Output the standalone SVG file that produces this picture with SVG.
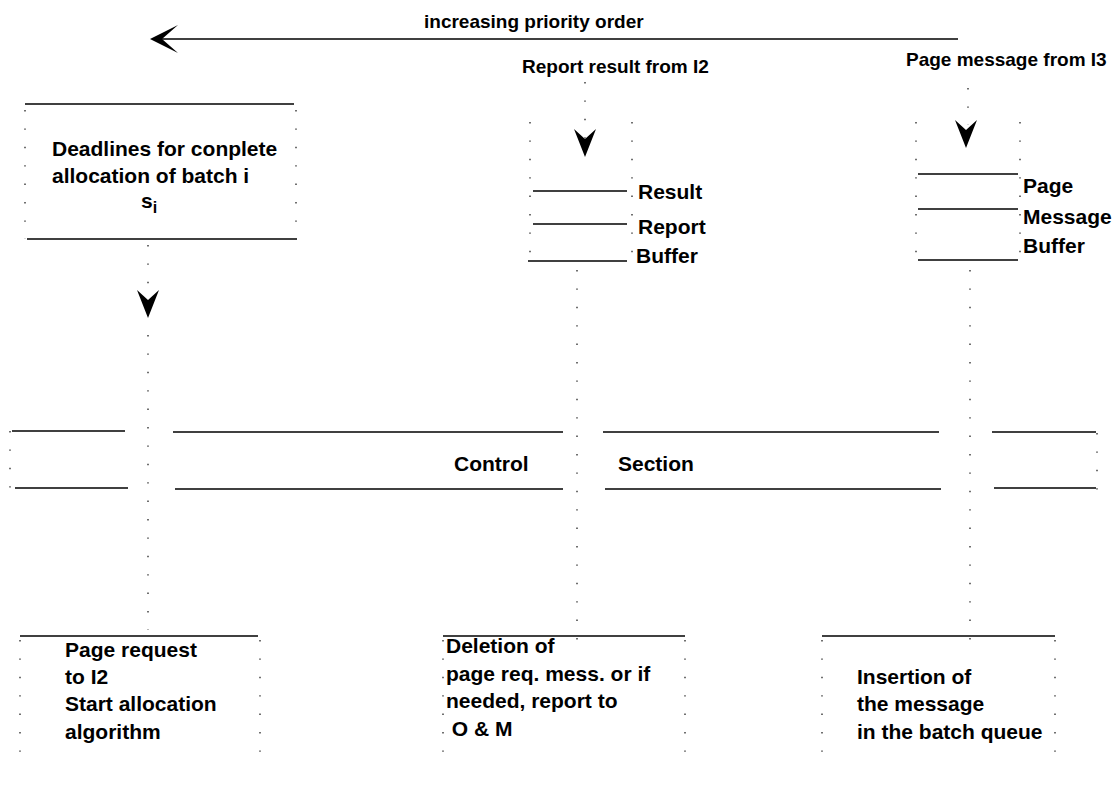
<svg xmlns="http://www.w3.org/2000/svg" width="1120" height="791" viewBox="0 0 1120 791">
<style>
  .t { font-family: "Liberation Sans", Arial, sans-serif; font-size: 21px; font-weight: bold; fill: #000; }
  .s { font-size: 19px; }
  .ln { stroke: #000; stroke-width: 1.3; fill: none; }
  .dot { stroke: #333; stroke-width: 1.4; fill: none; stroke-dasharray: 1.4 17; }
  .head { fill: #000; stroke: none; }
</style>
<defs>
  <path id="down" d="M0,0 L-11,-28 L0,-18 L11,-28 Z"/>
</defs>

<g id="priority">
  <line class="ln" x1="152" y1="39" x2="958" y2="39"/>
  <path class="head" d="M150,39 L178,25 L162,39 L178,53 Z"/>
  <text class="t s" x="424" y="28">increasing priority order</text>
</g>

<g id="connectors">
  <line class="dot" x1="148" y1="245" x2="148" y2="295"/>
  <line class="dot" x1="148" y1="335" x2="148" y2="630"/>
  <line class="dot" x1="585" y1="82" x2="585" y2="140"/>
  <line class="dot" x1="577" y1="270" x2="577" y2="640"/>
  <line class="dot" x1="968" y1="88" x2="968" y2="125"/>
  <line class="dot" x1="970" y1="270" x2="970" y2="640"/>
  <use href="#down" class="head" x="148" y="318"/>
  <use href="#down" class="head" x="585" y="157"/>
  <use href="#down" class="head" x="966" y="148"/>
</g>

<g id="deadlines">
  <line class="ln" x1="25" y1="104" x2="294" y2="104"/>
  <line class="ln" x1="27" y1="239" x2="297" y2="239"/>
  <line class="dot" x1="25" y1="110" x2="25" y2="239"/>
  <line class="dot" x1="296" y1="110" x2="296" y2="239"/>
  <text class="t" x="52" y="156">Deadlines for conplete</text>
  <text class="t" x="52" y="183">allocation of batch i</text>
  <text class="t" x="141" y="208">s<tspan font-size="16" dy="5">i</tspan></text>
</g>

<g id="report-input">
  <text class="t s" x="522" y="73">Report result from I2</text>
</g>

<g id="result-buffer">
  <line class="dot" x1="530" y1="122" x2="530" y2="265"/>
  <line class="dot" x1="632" y1="122" x2="632" y2="265"/>
  <line class="ln" x1="533" y1="191" x2="627" y2="191"/>
  <line class="ln" x1="533" y1="224" x2="627" y2="224"/>
  <line class="ln" x1="528" y1="261" x2="627" y2="261"/>
  <text class="t" x="638" y="199">Result</text>
  <text class="t" x="638" y="234">Report</text>
  <text class="t" x="636" y="263">Buffer</text>
</g>

<g id="page-input">
  <text class="t s" x="906" y="66">Page message from I3</text>
</g>

<g id="page-buffer">
  <line class="dot" x1="916" y1="122" x2="916" y2="262"/>
  <line class="dot" x1="1020" y1="122" x2="1020" y2="262"/>
  <line class="ln" x1="918" y1="174" x2="1018" y2="174"/>
  <line class="ln" x1="918" y1="209" x2="1018" y2="209"/>
  <line class="ln" x1="918" y1="260" x2="1018" y2="260"/>
  <text class="t" x="1023" y="193">Page</text>
  <text class="t" x="1023" y="224">Message</text>
  <text class="t" x="1023" y="253">Buffer</text>
</g>

<g id="control-section">
  <line class="ln" x1="12" y1="431" x2="125" y2="431"/>
  <line class="ln" x1="15" y1="488" x2="128" y2="488"/>
  <line class="dot" x1="10" y1="431" x2="10" y2="490"/>
  <line class="ln" x1="173" y1="432" x2="563" y2="432"/>
  <line class="ln" x1="175" y1="489" x2="563" y2="489"/>
  <line class="ln" x1="603" y1="432" x2="939" y2="432"/>
  <line class="ln" x1="605" y1="489" x2="941" y2="489"/>
  <line class="ln" x1="992" y1="432" x2="1096" y2="432"/>
  <line class="ln" x1="994" y1="488" x2="1096" y2="488"/>
  <line class="dot" x1="1097" y1="433" x2="1097" y2="490"/>
  <text class="t" x="454" y="471">Control</text>
  <text class="t" x="618" y="471">Section</text>
</g>

<g id="page-request">
  <line class="ln" x1="20" y1="636" x2="258" y2="636"/>
  <line class="dot" x1="20" y1="640" x2="20" y2="762"/>
  <line class="dot" x1="260" y1="640" x2="260" y2="762"/>
  <text class="t" x="65" y="657">Page request</text>
  <text class="t" x="65" y="684">to I2</text>
  <text class="t" x="65" y="711">Start allocation</text>
  <text class="t" x="65" y="739">algorithm</text>
</g>

<g id="deletion">
  <line class="ln" x1="443" y1="636" x2="685" y2="636"/>
  <line class="dot" x1="443" y1="640" x2="443" y2="762"/>
  <line class="dot" x1="685" y1="640" x2="685" y2="762"/>
  <text class="t" x="446" y="653">Deletion of</text>
  <text class="t" x="446" y="681">page req. mess. or if</text>
  <text class="t" x="446" y="708">needed, report to</text>
  <text class="t" x="446" y="736" xml:space="preserve"> O &amp; M</text>
</g>

<g id="insertion">
  <line class="ln" x1="822" y1="636" x2="1055" y2="636"/>
  <line class="dot" x1="822" y1="640" x2="822" y2="762"/>
  <line class="dot" x1="1055" y1="640" x2="1055" y2="762"/>
  <text class="t" x="857" y="684">Insertion of</text>
  <text class="t" x="857" y="711">the message</text>
  <text class="t" x="857" y="739">in the batch queue</text>
</g>
</svg>
